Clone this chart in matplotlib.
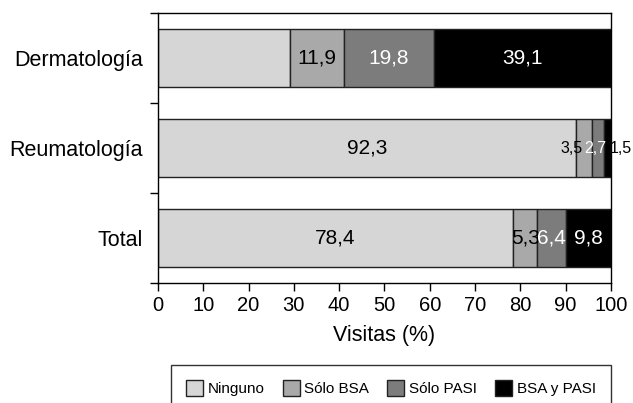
import matplotlib.pyplot as plt
import numpy as np

plt.rcParams['font.family'] = ['Liberation Sans', 'DejaVu Sans']

servicios = ['Dermatología', 'Reumatología', 'Total']
series = ['Ninguno', 'Sólo BSA', 'Sólo PASI', 'BSA y PASI']
ninguno = [29.2, 92.3, 78.4]
solo_bsa = [11.9, 3.5, 5.3]
solo_pasi = [19.8, 2.7, 6.4]
bsa_pasi = [39.1, 1.5, 9.8]

colores = ['#d6d6d6', '#a9a9a9', '#7c7c7c', '#000000']
color_texto = ['black', 'black', 'white', 'white']

fig = plt.figure(figsize=(6.33, 4.03), dpi=100)
ax = fig.add_axes([0.2496, 0.2978, 0.9652 - 0.2496, 0.9677 - 0.2978])

y = np.arange(len(servicios))
izq = np.zeros(len(servicios))
datos = [ninguno, solo_bsa, solo_pasi, bsa_pasi]
for i, vals in enumerate(datos):
    vals = np.array(vals)
    ax.barh(y, vals, left=izq, height=0.65, color=colores[i],
            edgecolor='#222222', linewidth=1, label=series[i])
    for j, v in enumerate(vals):
        centro = izq[j] + v / 2
        txt = f'{v:.1f}'.replace('.', ',')
        if j == 0 and i == 0:
            continue  # sin etiqueta en el primer tramo de Dermatología
        if j == 1 and i > 0:
            # tramos estrechos: letra pequeña y desplazada
            desp = {1: -2.7, 2: -0.6, 3: 2.9}[i]
            c = 'white' if i == 2 else 'black'
            ax.text(centro + desp, y[j], txt, ha='center', va='center',
                    fontsize=11.5, color=c, clip_on=False)
            continue
        ax.text(centro, y[j], txt, ha='center', va='center',
                fontsize=15, color=color_texto[i])
    izq += vals

ax.set_xlim(0, 100)
ax.set_ylim(len(servicios) - 0.5, -0.5)
ax.set_xticks(np.arange(0, 101, 10))
ax.tick_params(axis='x', labelsize=14.5, length=6, width=1, direction='out')
ax.set_yticks(y)
ax.set_yticklabels(servicios, fontsize=15.5)
ax.tick_params(axis='y', length=0, pad=11)
# marcas entre categorías
ax.set_yticks(np.arange(-0.5, len(servicios)), minor=True)
ax.tick_params(axis='y', which='minor', length=6, width=1, direction='out')
ax.set_xlabel('Visitas (%)', fontsize=15.5, labelpad=7)
for s in ax.spines.values():
    s.set_linewidth(1)
    s.set_color('black')

leg = fig.legend(loc='upper center', bbox_to_anchor=(0.6177, 0.0943), ncol=4,
                 fontsize=11, frameon=True, fancybox=False, edgecolor='black',
                 handlelength=1.1, handleheight=1.2, handletextpad=0.3,
                 columnspacing=1.2, borderpad=1.0, borderaxespad=0)
leg.get_frame().set_linewidth(1)

fig.savefig('out.png', dpi=100)
